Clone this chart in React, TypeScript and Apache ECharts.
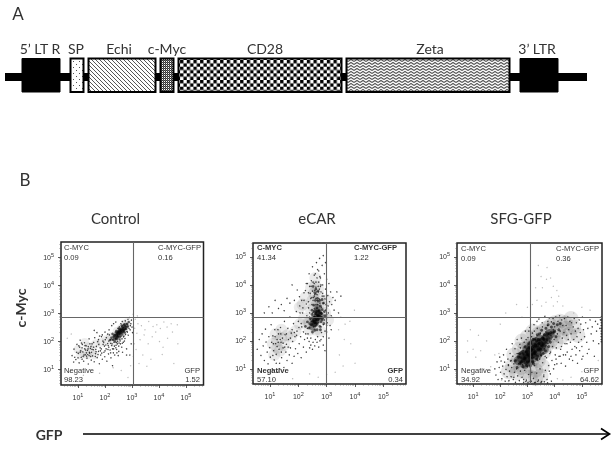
import React, { useEffect, useRef } from "react";
import * as echarts from "echarts";

// ---- construct diagram (schematic positions along the vector) ----
const segNames = ["5’ LT R", "SP", "Echi", "c-Myc", "CD28", "Zeta", "3’ LTR"];
const segStart = [22, 70.5, 88.5, 160.5, 178.5, 346.5, 520];
const segEnd = [60, 83.5, 155.5, 173.5, 341.5, 509.5, 558];
const segLabel = [40, 76, 119, 167, 265, 430, 537];
const segFill = ["solid", "dots", "hatch", "fine", "check", "zigzag", "solid"];
const backbone = [5, 587];

// ---- flow panels ----
const titles = ["Control", "eCAR", "SFG-GFP"];
const decades = [1, 2, 3, 4, 5];
const gateX = [3.04, 2.98, 3.1];
const gateY = [2.86, 2.86, 2.86];
const xRanges = [[0.37, 5.65], [0.4, 5.8], [0.41, 5.74]];
const yRanges = [[0.43, 5.54], [0.46, 5.5], [0.46, 5.5]];
const quadNames = ["C-MYC", "C-MYC-GFP", "Negative", "GFP"];
const quadValues = [
  ["0.09", "0.16", "98.23", "1.52"],
  ["41.34", "1.22", "57.10", "0.34"],
  ["0.09", "0.36", "34.92", "64.62"],
];

// Points below are log10(x)*100, log10(y)*100 pairs.
const controlHalo = [100,170,120,160,140,180,125,195,150,165,165,190,185,195,205,205,110,150,135,150,160,150,220,215,235,215,245,235,260,245,270,255,280,265,230,195,250,215,265,230];
const controlDense = [238,216,246,224,252,231,258,236,264,242,270,249,276,255];
const controlCore = [219,204,224,212,231,205,236,221,241,214,245,228,249,219,252,235,255,226,258,241,261,231,264,224,267,247,270,238,273,231,276,252,279,244,282,261,285,252,288,268,242,236,237,199,246,207,254,213,228,226,262,255,272,259,258,218,248,232,266,240,252,245,233,216,244,222,250,227,256,233,260,238,247,214,240,208,268,232,275,242];
const controlBody = [78,148,85,171,92,134,96,188,101,156,104,122,108,203,112,142,115,176,118,161,121,128,124,194,127,151,130,183,133,139,135,167,138,118,141,208,143,157,146,174,149,132,152,190,154,147,157,169,160,126,162,212,165,155,168,181,171,141,173,198,176,163,179,119,182,176,184,150,187,216,190,135,193,188,196,160,199,144,201,205,204,172,207,128,210,191,213,154,216,222,219,168,222,140,225,184,228,112,231,158,240,176,246,190,251,163,256,200,262,178,268,196,274,209,280,172,286,221,292,150,297,190,233,196,238,232,243,170,248,245,253,251,259,262,264,270,269,215,275,272,281,235,285,278,290,284,293,240,296,262,298,275,300,250,302,230,210,225,215,240,200,232,190,222,180,218,170,230,160,238,225,255,232,262,240,268,110,165,125,172,138,180,122,150,144,190,132,146,150,160,116,188,128,168,106,178,95,160,88,142,147,145,166,170,183,165,198,182,214,200,205,212,222,205,226,190,235,182,228,172,242,195,251,182,257,190,263,208,270,218,276,224,283,232,289,245,294,255,272,200,264,192,244,158,236,150,249,148,265,160,280,150,214,178,192,200,176,205,158,195,142,160,136,152,115,135,100,140,84,125,103,183,113,193,126,184,137,172,148,181,158,178,167,162,177,188,186,172,195,196,203,186,212,184,221,192,229,204,238,208,247,198,255,205,108,160,119,145,131,158,141,148,152,170,164,145,174,152,188,157,200,165,211,170,221,158,232,172,241,185,252,193];
const controlFaint = [310,246,322,262,335,255,348,240,362,270,378,252,392,258,405,245,418,268,430,250,445,262,468,258,318,228,330,205,345,222,360,190,375,215,388,232,402,198,415,178,432,210,450,232,470,190,455,120,305,145,315,170,326,120,340,150,355,110,370,135,412,152,308,190,312,278,320,290,304,296,70,90,120,78,180,85,230,105,260,95,295,112,285,70,60,210,75,225];

const ecarHalo = [110,190,125,200,140,210,125,175,150,185,135,165,160,220,175,215,190,235,205,260,220,280,235,265,120,225,115,150,140,240,245,390,260,395,255,370,270,385,260,425,250,345,262,345,275,350,245,310,255,320,270,320,285,325,240,265,255,270,270,275,285,285,295,300,300,345,305,275,240,240,262,240,278,235,215,330,225,355,205,320];
const ecarDense = [250,250,256,262,262,272,258,285,266,290,272,282,264,304,272,300,278,292,268,318,260,262,252,272];
const ecarCore = [225,252,232,268,238,246,242,280,246,258,248,295,252,272,255,305,258,285,258,238,262,298,264,262,266,318,268,275,270,342,272,290,274,308,276,252,278,325,280,268,282,298,284,312,286,282,288,335,290,262,292,305,294,290,248,310,254,328,260,345,240,262,266,240,250,232,268,352,276,345,284,348,278,240,255,285,262,275,268,290,274,280,280,285,263,305,270,305,277,300,284,275,258,265,252,395,262,385,270,378,258,372];
const ecarBody = [55,170,62,205,68,148,72,225,76,182,80,130,84,242,86,196,90,160,93,118,96,215,99,176,101,142,104,258,106,195,108,100,110,218,113,165,115,132,117,240,120,190,122,152,125,205,127,88,130,225,132,170,134,120,137,248,139,195,141,140,144,210,146,175,149,105,151,270,153,222,156,160,158,188,160,130,163,245,165,205,168,150,170,285,172,175,175,228,178,120,180,198,183,262,185,145,188,215,190,172,193,305,195,235,198,155,200,270,203,190,205,325,208,215,210,140,212,250,215,300,218,178,220,345,222,205,225,380,228,160,230,290,232,405,234,225,236,340,238,440,240,175,242,370,244,210,246,415,248,330,250,465,252,195,254,355,256,435,258,380,260,205,262,410,264,480,266,365,268,215,270,395,272,450,274,350,276,200,278,425,280,375,282,230,284,470,286,400,288,185,290,360,292,440,294,235,296,385,298,330,300,420,302,265,304,362,306,300,308,405,310,340,312,255,314,375,316,290,318,330,322,355,326,310,330,345,336,375,342,300,350,360,275,495,288,505,296,480,268,455,256,405,274,385,262,392,250,378,258,366,245,395,236,372,228,405,220,372,212,345,204,358,196,382,186,345,178,400,170,335,160,352,150,308,140,330,130,316,118,345,108,300,96,322,80,300,262,368,278,395,270,375,286,370,266,345,252,345,244,352,236,318,240,300,228,332,216,318,206,300,125,180,136,205,118,215,129,195,112,190,138,225,146,192,128,240,152,178,110,148,122,120,140,160,134,100,158,225,164,178,172,210,178,240,186,230,194,220,202,248,210,262,218,232,226,225,232,210,238,198,244,185,250,170,258,182,266,195,272,178,280,205,288,215,294,165,300,232,308,210,316,240,232,245,240,285,246,270,250,300,256,315,262,330,268,330,276,335,282,320,290,335,296,310,300,295,305,325,254,250,262,255,272,265,280,250,288,258,292,275,300,255,248,355,256,360,264,375,272,410,280,400,252,410,260,440,266,425,276,430,240,395,262,352,294,350,284,360];
const ecarFaint = [350,285,365,260,382,270,398,310,345,150,358,110,330,88,300,80,270,70,240,82,342,240,362,205,385,190,400,120,110,62,180,65];

const sfgHalo = [230,90,245,110,260,85,265,130,275,105,285,130,290,90,300,140,310,105,320,135,330,95,340,130,355,110,290,170,305,180,320,190,335,165,345,190,360,160,372,185,385,200,395,220,405,195,415,240,425,215,440,245,455,225,470,250,485,220,340,225,355,235,370,245,385,255,400,265,420,270,440,265,460,280,310,70,330,65,350,75,250,150,270,170,280,200,300,215,320,235];
const sfgDense = [268,130,278,140,286,150,294,135,302,150,310,165,318,155,326,175,334,165,342,185,350,180,358,195,366,205,374,215,382,225,300,170,316,185,330,195,345,205,335,150,320,140,305,128,290,118,360,170];
const sfgCore = [255,128,262,105,268,142,272,120,276,125,280,160,284,108,288,136,292,178,296,112,298,150,302,150,306,190,308,128,312,172,315,168,318,140,320,205,322,118,326,155,330,185,334,135,336,222,340,168,342,190,346,205,350,150,352,238,356,210,358,188,362,222,366,165,368,245,372,205,376,258,380,225,384,195,388,250,392,228,396,262,400,235,405,215,410,258,415,240,420,262,300,168,310,110,322,180,334,200,344,225,360,205,374,225,386,230,398,232,290,140,300,125,316,150,328,160,338,145,348,170,358,155,320,125,305,175,312,195,326,205,340,205,352,185,366,195,378,180,296,160,284,155,272,155];
const sfgBody = [180,100,184,78,188,125,192,62,196,105,198,142,201,88,203,128,206,65,209,110,212,150,214,82,216,124,218,56,221,98,223,170,225,72,228,135,230,112,232,58,234,92,236,155,238,128,240,72,242,105,244,190,246,145,248,62,250,118,252,88,254,172,256,52,258,132,260,100,262,205,264,75,266,155,268,118,270,58,272,188,274,92,276,140,278,210,280,70,282,115,284,165,286,52,288,195,290,95,292,235,294,130,296,60,298,172,300,108,302,212,304,80,306,148,308,248,310,55,312,125,314,190,316,88,318,228,320,158,322,66,324,258,326,112,328,205,330,52,332,168,334,85,336,245,338,130,340,60,342,278,344,190,346,100,348,228,350,148,352,55,354,265,356,122,358,210,360,78,362,172,364,288,366,95,368,232,370,140,372,62,374,255,376,190,378,112,380,282,382,155,384,82,386,220,388,268,390,130,392,180,394,280,396,100,398,205,400,250,402,150,404,285,406,175,408,118,410,225,412,270,414,195,416,145,418,290,420,235,422,170,424,120,426,275,428,210,430,255,432,150,434,230,436,280,438,190,440,110,442,255,444,220,446,160,448,285,450,205,452,240,454,135,456,270,458,195,460,225,462,265,464,170,466,130,468,250,470,205,472,280,474,180,476,235,478,150,480,265,482,215,484,120,486,245,488,195,490,275,492,165,494,230,496,260,498,205,500,180,502,285,504,145,506,240,510,215,514,265,518,195,522,245,526,170,530,275,534,225,538,250,542,200,546,145,550,270,554,235,558,260,562,190,566,245,568,275,286,62,294,55,302,52,314,56,326,51,338,55,350,52,362,54,374,50,388,56,250,70,240,130,262,155,274,175,230,115,345,135,365,145,385,160,405,135,425,180,445,190,355,250,375,270,395,240,335,270,325,235,315,215,305,235,295,205,360,72,380,92,400,115,420,145,440,150,460,145,480,175,500,135,520,155];
const sfgFaint = [150,200,180,150,140,100,120,220,100,170,90,240,200,260,220,300,260,330,280,285,340,470,355,390,370,420,395,395,395,325,410,340,430,325,470,300,500,320,530,310,80,200,80,160,560,130,500,90,460,70,430,60,410,65,230,55,205,60,300,320,318,330,335,345,352,325,368,338,388,355,415,360,385,425,372,462,350,430,330,390,408,380,195,155,165,108,128,165,110,142];
const sfgEdge = [571,205,571,215,571,225,571,235,571,245,571,255,571,265,571,275,571,285,571,197];

const pairs = (flat: number[]) => {
  const out: number[][] = [];
  for (let i = 0; i + 1 < flat.length; i += 2) out.push([flat[i] / 100, flat[i + 1] / 100]);
  return out;
};

const halos = [controlHalo, ecarHalo, sfgHalo];
const denses = [controlDense, ecarDense, sfgDense];
const cores = [controlCore, ecarCore, sfgCore];
const bodies = [controlBody, ecarBody, sfgBody.concat(sfgEdge)];
const faints = [controlFaint, ecarFaint, sfgFaint];

// layout
const boxes = [
  { l: 61, t: 242, r: 203.5, b: 385 },
  { l: 253, t: 243, r: 406, b: 384 },
  { l: 457, t: 243, r: 602, b: 384 },
];
const quadPos = [
  { a: 64, b: 158, c: 200 },
  { a: 257, b: 354, c: 403 },
  { a: 461, b: 556, c: 599 },
];

const minorTicks: number[] = [];
for (let d = 0; d < 6; d++) for (let m = 2; m < 10; m++) minorTicks.push(d + Math.log10(m));

const pat = (size: number, draw: (c: CanvasRenderingContext2D) => void, shown = size) => {
  const cv = document.createElement("canvas");
  cv.width = size;
  cv.height = size;
  const c = cv.getContext("2d")!;
  c.fillStyle = "#fff";
  c.fillRect(0, 0, size, size);
  draw(c);
  return { image: cv.toDataURL(), repeat: "repeat", imageWidth: shown, imageHeight: shown };
};

export default function App() {
  const ref = useRef<HTMLDivElement>(null);
  useEffect(() => {
    document.body.style.margin = "0";
    const chart = echarts.init(ref.current!, null, { renderer: "svg" });

    const fills: Record<string, any> = {
      solid: "#000",
      dots: pat(6, (c) => {
        c.fillStyle = "#555";
        c.fillRect(1, 1, 1, 1);
        c.fillRect(4, 4, 1, 1);
      }),
      hatch: pat(4, (c) => {
        c.strokeStyle = "#444";
        c.lineWidth = 0.9;
        c.beginPath();
        c.moveTo(-1, -1);
        c.lineTo(5, 5);
        c.moveTo(-3, 1);
        c.lineTo(1, 5);
        c.moveTo(3, -1);
        c.lineTo(5, 1);
        c.stroke();
      }),
      fine: pat(2, (c) => {
        c.fillStyle = "#333";
        c.fillRect(0, 0, 1, 1);
        c.fillRect(1, 1, 1, 1);
        c.fillStyle = "#666";
        c.fillRect(1, 0, 1, 1);
      }),
      check: pat(20, (c) => {
        c.fillStyle = "#000";
        c.fillRect(0, 0, 10, 10);
        c.fillRect(10, 10, 10, 10);
      }, 6.67),
      zigzag: pat(6, (c) => {
        c.strokeStyle = "#555";
        c.lineWidth = 1.1;
        c.beginPath();
        for (const y of [0.5, 3.5, 6.5]) {
          c.moveTo(0, y + 1);
          c.lineTo(3, y - 1);
          c.lineTo(6, y + 1);
        }
        c.stroke();
      }),
    };

    const grids: any[] = boxes.map((b) => ({
      left: b.l,
      top: b.t,
      width: b.r - b.l,
      height: b.b - b.t,
      show: true,
      borderColor: "#222",
      borderWidth: 1.5,
      backgroundColor: "transparent",
    }));
    grids.push({ left: 0, top: 0, width: 614, height: 150 });

    const fmt = (v: number) => `{b|10}{s|${v}}`;
    const rich = {
      b: { fontSize: 7, fontFamily: "Liberation Sans", color: "#333" },
      s: { fontSize: 5.5, fontFamily: "Liberation Sans", color: "#333", padding: [0, 0, 5, 0] },
    };
    const xAxes: any[] = [];
    const yAxes: any[] = [];
    boxes.forEach((_, i) => {
      const common = { type: "value", gridIndex: i, splitLine: { show: false }, axisLine: { show: false } };
      xAxes.push({
        ...common,
        position: "bottom",
        min: xRanges[i][0],
        max: xRanges[i][1],
        axisTick: { show: true, length: 3, customValues: decades, lineStyle: { color: "#333", width: 0.8 } },
        axisLabel: { show: true, margin: 7, customValues: decades, formatter: fmt, rich },
      });
      xAxes.push({
        ...common,
        position: "bottom",
        min: xRanges[i][0],
        max: xRanges[i][1],
        axisLabel: { show: false },
        axisTick: {
          show: true,
          length: 1.5,
          customValues: minorTicks.filter((t) => t > xRanges[i][0] && t < xRanges[i][1]),
          lineStyle: { color: "#555", width: 0.6 },
        },
      });
      yAxes.push({
        ...common,
        position: "left",
        min: yRanges[i][0],
        max: yRanges[i][1],
        axisTick: { show: true, length: 3, customValues: decades, lineStyle: { color: "#333", width: 0.8 } },
        axisLabel: { show: true, margin: 7, customValues: decades, formatter: fmt, rich },
      });
      yAxes.push({
        ...common,
        position: "left",
        min: yRanges[i][0],
        max: yRanges[i][1],
        axisLabel: { show: false },
        axisTick: {
          show: true,
          length: 1.5,
          customValues: minorTicks.filter((t) => t > yRanges[i][0] && t < yRanges[i][1]),
          lineStyle: { color: "#555", width: 0.6 },
        },
      });
    });
    xAxes.push({ type: "value", gridIndex: 3, min: 0, max: 614, show: false });
    yAxes.push({ type: "value", gridIndex: 3, min: 0, max: 150, inverse: true, show: false });

    const haloSize = [9, 12, 15];
    const haloOpacity = [0.07, 0.08, 0.1];
    const denseSize = [6, 7, 10];
    const coreSize = [2.6, 2.8, 3];
    const series: any[] = [];
    boxes.forEach((_, i) => {
      const axes = { xAxisIndex: i * 2, yAxisIndex: i * 2 };
      const base = { type: "scatter", ...axes, silent: true, animation: false };
      series.push({
        ...base,
        name: titles[i] + " density",
        data: pairs(halos[i]),
        symbolSize: haloSize[i],
        itemStyle: { color: "#000", opacity: haloOpacity[i] },
      });
      series.push({
        ...base,
        name: titles[i] + " dense",
        data: pairs(denses[i]),
        symbolSize: denseSize[i],
        itemStyle: { color: "#000", opacity: 0.4 },
      });
      series.push({
        ...base,
        name: titles[i] + " faint",
        data: pairs(faints[i]),
        symbolSize: 1.3,
        itemStyle: { color: "#aaa" },
      });
      series.push({
        ...base,
        name: titles[i],
        data: pairs(bodies[i]),
        symbolSize: 1.4,
        itemStyle: { color: "#111" },
      });
      series.push({
        ...base,
        name: titles[i] + " core",
        data: pairs(cores[i]),
        symbolSize: coreSize[i],
        itemStyle: { color: "#000", opacity: 0.6 },
        markLine: {
          silent: true,
          symbol: "none",
          animation: false,
          label: { show: false },
          lineStyle: { color: "#666", width: 1.1, type: "solid" },
          data: [{ xAxis: gateX[i] }, { yAxis: gateY[i] }],
        },
      });
    });

    const labelY = 48;
    const mid = 75.5;
    series.push({
      type: "custom",
      name: "construct",
      xAxisIndex: 6,
      yAxisIndex: 6,
      silent: true,
      clip: false,
      data: segNames.map((_, i) => [segStart[i], segEnd[i], i]),
      encode: { x: [0, 1] },
      renderItem: (_p: any, api: any) => {
        const i = api.value(2);
        const a = api.coord([api.value(0), mid]);
        const b = api.coord([api.value(1), mid]);
        const solid = segFill[i] === "solid";
        const lbl = api.coord([segLabel[i], labelY]);
        return {
          type: "group",
          children: [
            {
              type: "rect",
              shape: { x: a[0], y: a[1] - 17, width: b[0] - a[0], height: 33.5 },
              style: { fill: fills[segFill[i]], stroke: "#000", lineWidth: solid ? 1 : 2 },
            },
            {
              type: "text",
              x: lbl[0],
              y: lbl[1],
              style: {
                text: segNames[i],
                fill: "#333",
                font: "14px Lato",
                textAlign: "center",
                textVerticalAlign: "middle",
              },
            },
          ],
        };
      },
      z: 5,
    });
    series.push({
      type: "custom",
      name: "backbone",
      xAxisIndex: 6,
      yAxisIndex: 6,
      silent: true,
      clip: false,
      data: [[backbone[0], backbone[1]]],
      encode: { x: [0, 1] },
      renderItem: (_p: any, api: any) => {
        const a = api.coord([api.value(0), 77]);
        const b = api.coord([api.value(1), 77]);
        return { type: "rect", shape: { x: a[0], y: a[1] - 4, width: b[0] - a[0], height: 8 }, style: { fill: "#000" } };
      },
      z: 2,
    });

    const txt = (text: string, x: number, y: number, font: string, align = "center", extra: any = {}) => ({
      type: "text",
      x,
      y,
      silent: true,
      z: 20,
      style: { text, x: 0, y: 0, font, fill: "#333", textAlign: align, textVerticalAlign: "middle" },
      ...extra,
    });

    const graphic: any[] = [
      txt("A", 18, 13, "17px Lato"),
      txt("B", 25, 179, "17px Lato"),
      txt("Control", 115.5, 218, "15px Lato"),
      txt("eCAR", 317, 218, "15px Lato"),
      txt("SFG-GFP", 521, 218, "15px Lato"),
      {
        ...txt("c-Myc", 20, 308, "bold 14px Lato"),
        rotation: Math.PI / 2,
      },
      txt("GFP", 49, 434, "bold 14px Lato"),
      { type: "line", silent: true, shape: { x1: 83, y1: 434, x2: 609, y2: 434 }, style: { stroke: "#000", lineWidth: 1.5 } },
      {
        type: "polyline",
        silent: true,
        shape: { points: [[601, 428.5], [609.5, 434], [601, 439.5]] },
        style: { stroke: "#000", lineWidth: 1.7, fill: "none" },
      },
    ];
    boxes.forEach((_, i) => {
      const p = quadPos[i];
      const q = quadValues[i];
      const top1 = i === 2 ? 248 : 247;
      const top2 = i === 2 ? 258 : 257;
      const reg = "7.6px Liberation Sans";
      const f1 = i === 1 ? "bold 7.6px Liberation Sans" : reg;
      graphic.push(txt(quadNames[0], p.a, top1, f1, "left"));
      graphic.push(txt(q[0], p.a, top2, reg, "left"));
      graphic.push(txt(quadNames[1], p.b, top1, f1, "left"));
      graphic.push(txt(q[1], p.b, top2, reg, "left"));
      graphic.push(txt(quadNames[2], p.a, 370.5, i === 1 ? f1 : reg, "left"));
      graphic.push(txt(q[2], p.a, 379, reg, "left"));
      graphic.push(txt(quadNames[3], p.c, 370.5, f1, "right"));
      graphic.push(txt(q[3], p.c, 379, reg, "right"));
    });

    chart.setOption({
      animation: false,
      backgroundColor: "#fff",
      grid: grids,
      xAxis: xAxes,
      yAxis: yAxes,
      series,
      graphic,
    });
    return () => chart.dispose();
  }, []);
  return (
    <div
      ref={ref}
      style={{ position: "absolute", left: 0, top: 0, width: 614, height: 450, filter: "blur(0.35px)" }}
    />
  );
}
